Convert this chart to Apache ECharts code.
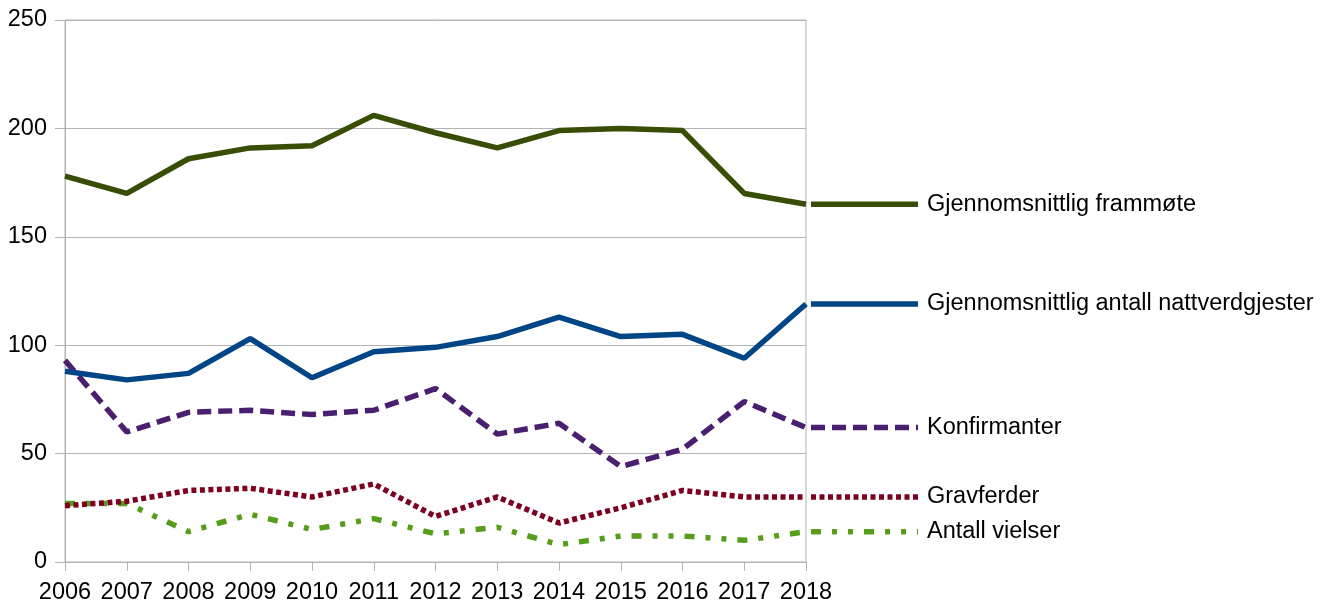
<!DOCTYPE html>
<html>
<head>
<meta charset="utf-8">
<script src="https://cdn.jsdelivr.net/npm/echarts@6/dist/echarts.min.js"></script>
<style>
  html, body { margin: 0; padding: 0; background: #fff; }
  #chart { width: 1329px; height: 606px; }
</style>
</head>
<body>
<div id="chart"></div>
<script>
// years on the x axis
const years = ['2006','2007','2008','2009','2010','2011','2012','2013','2014','2015','2016','2017','2018'];

// series values
const frammote      = [178, 170, 186, 191, 192, 206, 198, 191, 199, 200, 199, 170, 165];
const nattverd      = [88, 84, 87, 103, 85, 97, 99, 104, 113, 104, 105, 94, 119];
const konfirmanter  = [93, 60, 69, 70, 68, 70, 80, 59, 64, 44, 52, 74, 62];
const gravferder    = [26, 28, 33, 34, 30, 36, 21, 30, 18, 25, 33, 30, 30];
const vielser       = [27, 27, 14, 22, 15, 20, 13, 16, 8, 12, 12, 10, 14];

const names = [
    'Gjennomsnittlig frammøte',
    'Gjennomsnittlig antall nattverdgjester',
    'Konfirmanter',
    'Gravferder',
    'Antall vielser'
];
const colors = ['#384d06', '#004586', '#4b1f6f', '#7e0021', '#579d1c'];
const dashes = ['solid', 'solid', [14, 7], [5, 3.5], [10, 11, 5, 11, 5, 11]];
const values = [frammote, nattverd, konfirmanter, gravferder, vielser];

const font = 'Liberation Sans, Arial, sans-serif';
const fs = 23.5;
const chart = echarts.init(document.getElementById('chart'));

const option = {
    animation: false,
    grid: {
        left: 65, right: 523, top: 20, bottom: 44,
        show: true, borderColor: '#b3b3b3', borderWidth: 1
    },
    xAxis: {
        type: 'category',
        data: years,
        boundaryGap: false,
        axisLine: { lineStyle: { color: '#b3b3b3' } },
        axisTick: { show: true, length: 9, interval: 0, lineStyle: { color: '#b3b3b3' } },
        axisLabel: { color: '#000', fontSize: fs, fontFamily: font, margin: 19, interval: 0, hideOverlap: false },
        splitLine: { show: false }
    },
    yAxis: {
        type: 'value',
        min: 0, max: 250, interval: 50,
        axisLine: { show: true, lineStyle: { color: '#b3b3b3' } },
        axisTick: { show: true, length: 10, lineStyle: { color: '#b3b3b3' } },
        axisLabel: { color: '#000', fontSize: fs, fontFamily: font, margin: 18 },
        splitLine: { lineStyle: { color: '#b3b3b3' } }
    },
    series: names.map((n, i) => ({
        name: n,
        type: 'line',
        data: values[i],
        symbol: 'none',
        lineStyle: { color: colors[i], width: 5.5, type: dashes[i] },
        z: 10 - i
    }))
};
chart.setOption(option);

// end labels: line stub from the last point plus the series name
const graphics = [];
names.forEach((n, i) => {
    const last = values[i][values[i].length - 1];
    const p = chart.convertToPixel({ seriesIndex: i }, [years.length - 1, last]);
    graphics.push({
        type: 'line',
        shape: { x1: p[0] + 5, y1: p[1], x2: 918, y2: p[1] },
        style: { stroke: colors[i], lineWidth: 5.5, lineDash: dashes[i] === 'solid' ? null : dashes[i] },
        z: 20
    });
    graphics.push({
        type: 'text',
        x: 927, y: p[1],
        style: { text: n, fill: '#000', font: fs + 'px ' + font, textVerticalAlign: 'middle' },
        z: 20
    });
});
chart.setOption({ graphic: graphics });
</script>
</body>
</html>
